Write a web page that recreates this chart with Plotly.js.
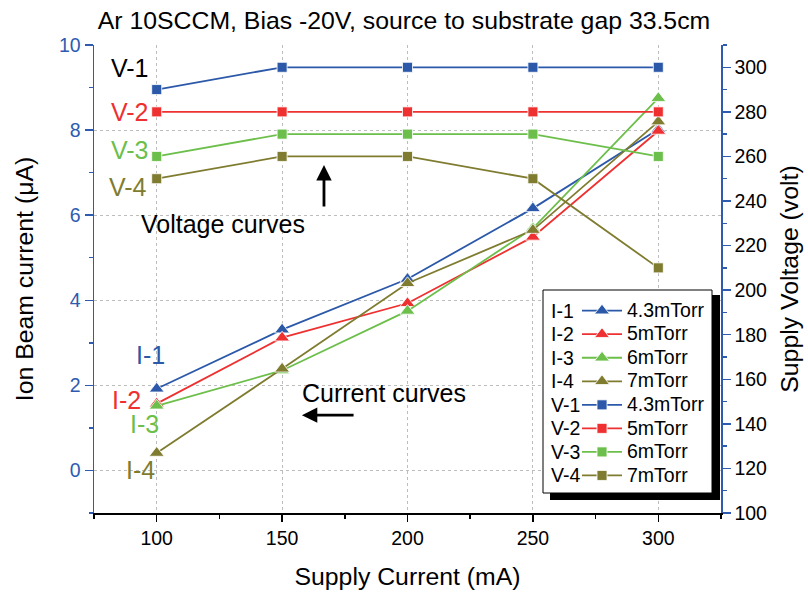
<!DOCTYPE html>
<html><head><meta charset="utf-8">
<script src="https://cdn.plot.ly/plotly-3.0.1.min.js"></script>
<style>html,body{margin:0;padding:0;background:#fff}#chart{width:808px;height:593px}</style>
</head><body><div id="chart"></div>
<script>
// ---- data ----
const supplyCurrent = [100, 150, 200, 250, 300];
const I1 = [1.92, 3.31, 4.50, 6.16, 8.02];
const I2 = [1.57, 3.12, 3.93, 5.49, 7.98];
const I3 = [1.52, 2.35, 3.75, 5.69, 8.75];
const I4 = [0.41, 2.39, 4.40, 5.65, 8.20];
const V1 = [290, 300, 300, 300, 300];
const V2 = [280, 280, 280, 280, 280];
const V3 = [260, 270, 270, 270, 260];
const V4 = [250, 260, 260, 250, 210];
const currentIds = ['I-1', 'I-2', 'I-3', 'I-4'];
const voltageIds = ['V-1', 'V-2', 'V-3', 'V-4'];
const pressures = ['4.3mTorr', '5mTorr', '6mTorr', '7mTorr'];

// ---- style ----
const FONT = 'Liberation Sans, Arial, sans-serif';
const colors = ['#2B58A8', '#EE3030', '#6CBF4A', '#7F7C30'];
const AXBLUE = '#2E5BB0';
const W = 808, H = 593, ML = 94, MR = 87, MT = 45, MB = 80;
const PW = W - ML - MR, PH = H - MT - MB;
const px = x => (x - ML) / PW;
const py = y => (H - MB - y) / PH;

const currents = [I1, I2, I3, I4];
const voltages = [V1, V2, V3, V4];
const traces = [];
currents.forEach((ys, i) => traces.push({
  x: supplyCurrent, y: ys, type: 'scatter', mode: 'lines+markers',
  name: '<span style="font-size:19.5px">' + pressures[i] + '</span>',
  line: {color: colors[i], width: 1.8},
  marker: {symbol: 'triangle-up', size: 13, color: colors[i], line: {color: '#fff', width: 0.8}},
  xaxis: 'x', yaxis: 'y'
}));
voltages.forEach((ys, i) => traces.push({
  x: supplyCurrent, y: ys, type: 'scatter', mode: 'lines+markers',
  name: '<span style="font-size:19.5px">' + pressures[i] + '</span>',
  line: {color: colors[i], width: 1.8},
  marker: {symbol: 'square', size: 10, color: colors[i], line: {color: '#fff', width: 0.8}},
  xaxis: 'x', yaxis: 'y2'
}));

// legend geometry (pixels)
const legTop = 293.9, legLeft = 577, rowH = 15.8 * 1.3 + 3;
const rowY = k => legTop + 5 + rowH / 2 + k * rowH;

const annotations = [];
// inline labels on the plot
const inline = [
  ['V-1', 89.3, 9.46, '#000'], ['V-2', 89.3, 8.43, colors[1]], ['V-3', 89.3, 7.53, colors[2]], ['V-4', 88.6, 6.66, colors[3]],
  ['I-1', 97.5, 2.71, colors[0]], ['I-2', 87.8, 1.66, colors[1]], ['I-3', 95.1, 1.09, colors[2]], ['I-4', 93.7, 0.01, colors[3]],
  ['Voltage curves', 126.6, 5.79, '#000'], ['Current curves', 190.8, 1.82, '#000']
];
inline.forEach(a => annotations.push({
  text: a[0], x: a[1], y: a[2], xref: 'x', yref: 'y', showarrow: false,
  font: {family: FONT, size: 25, color: a[3]}, xanchor: 'center', yanchor: 'middle'
}));
// arrows
annotations.push({text: '', x: 166.7, y: 7.18, ax: 166.7, ay: 6.17, xref: 'x', yref: 'y', axref: 'x', ayref: 'y',
  showarrow: true, arrowhead: 2, arrowsize: 1.1, arrowwidth: 2.8, arrowcolor: '#000'});
annotations.push({text: '', x: 157.9, y: 1.30, ax: 179.1, ay: 1.30, xref: 'x', yref: 'y', axref: 'x', ayref: 'y',
  showarrow: true, arrowhead: 2, arrowsize: 1.1, arrowwidth: 2.8, arrowcolor: '#000'});
// legend prefixes
currentIds.concat(voltageIds).forEach((t, k) => annotations.push({
  text: t, xref: 'paper', yref: 'paper', x: px(549), y: py(rowY(k)), xanchor: 'left', yanchor: 'middle',
  showarrow: false, font: {family: FONT, size: 19.5, color: '#000'}
}));

const shapes = [
  {type: 'rect', xref: 'paper', yref: 'paper', x0: px(550), x1: px(720), y0: py(295), y1: py(500),
   fillcolor: '#000', line: {width: 0}, layer: 'above'},
  {type: 'rect', xref: 'paper', yref: 'paper', x0: px(543), x1: px(712), y0: py(290), y1: py(493),
   fillcolor: '#fff', line: {color: '#000', width: 1}, layer: 'above'}
];

const layout = {
  width: W, height: H, margin: {l: ML, r: MR, t: MT, b: MB},
  paper_bgcolor: '#fff', plot_bgcolor: '#fff',
  font: {family: FONT, color: '#000'},
  title: {text: 'Ar 10SCCM, Bias -20V, source to substrate gap 33.5cm', font: {family: FONT, size: 24.8, color: '#000'},
          x: 0.5, xref: 'container', y: 1 - 20 / H, yref: 'container', yanchor: 'middle'},
  showlegend: true,
  legend: {x: px(legLeft), y: py(legTop), xanchor: 'left', yanchor: 'top', bgcolor: 'rgba(0,0,0,0)',
           borderwidth: 0, font: {family: FONT, size: 15.8, color: '#000'}, traceorder: 'normal', itemwidth: 40},
  xaxis: {range: [75, 325], tickvals: supplyCurrent, ticks: 'outside', ticklen: 7, tickwidth: 1.5, tickcolor: '#000',
          showline: true, linecolor: '#000', linewidth: 1.5, zeroline: false,
          showgrid: true, gridcolor: '#BDBDBD', griddash: 'dot', gridwidth: 1,
          minor: {dtick: 25, tick0: 75, ticks: 'outside', ticklen: 4, tickwidth: 1.5, tickcolor: '#000', showgrid: false},
          tickfont: {family: FONT, size: 19.5, color: '#000'},
          title: {text: 'Supply Current (mA)', font: {family: FONT, size: 24.8, color: '#000'}, standoff: 19}},
  xaxis2: {range: [75, 325], overlaying: 'x', side: 'top', anchor: 'y', tickvals: supplyCurrent, ticks: 'inside',
           ticklen: 8, tickwidth: 1.5, tickcolor: '#000', showticklabels: false, showline: true, linecolor: '#000',
           linewidth: 1.5, showgrid: false, zeroline: false,
           minor: {dtick: 25, tick0: 75, ticks: 'inside', ticklen: 4, tickwidth: 1.5, tickcolor: '#000', showgrid: false}},
  yaxis: {range: [-1, 10], tick0: 0, dtick: 2, ticks: 'outside', ticklen: 8, tickwidth: 1.5, tickcolor: AXBLUE,
          showline: true, linecolor: AXBLUE, linewidth: 1.5, zeroline: false,
          showgrid: true, gridcolor: '#BDBDBD', griddash: 'dot', gridwidth: 1,
          minor: {dtick: 1, tick0: 0, ticks: 'outside', ticklen: 4, tickwidth: 1.5, tickcolor: AXBLUE, showgrid: false},
          tickfont: {family: FONT, size: 19.5, color: AXBLUE},
          title: {text: 'Ion Beam current (μA)', font: {family: FONT, size: 24.8, color: '#000'}, standoff: 18}},
  yaxis2: {range: [100, 310], overlaying: 'y', side: 'right', anchor: 'x', tick0: 100, dtick: 20, ticks: 'outside',
           ticklen: 8, tickwidth: 1.5, tickcolor: AXBLUE, showline: true, linecolor: AXBLUE, linewidth: 1.5,
           zeroline: false, showgrid: false,
           minor: {dtick: 10, tick0: 100, ticks: 'outside', ticklen: 4, tickwidth: 1.5, tickcolor: AXBLUE, showgrid: false},
           tickfont: {family: FONT, size: 19.5, color: '#000'},
           title: {text: 'Supply Voltage (volt)', font: {family: FONT, size: 24.8, color: '#000'}, standoff: 14}},
  annotations: annotations,
  shapes: shapes
};

Plotly.newPlot('chart', traces, layout, {displayModeBar: false, staticPlot: true});
</script></body></html>
